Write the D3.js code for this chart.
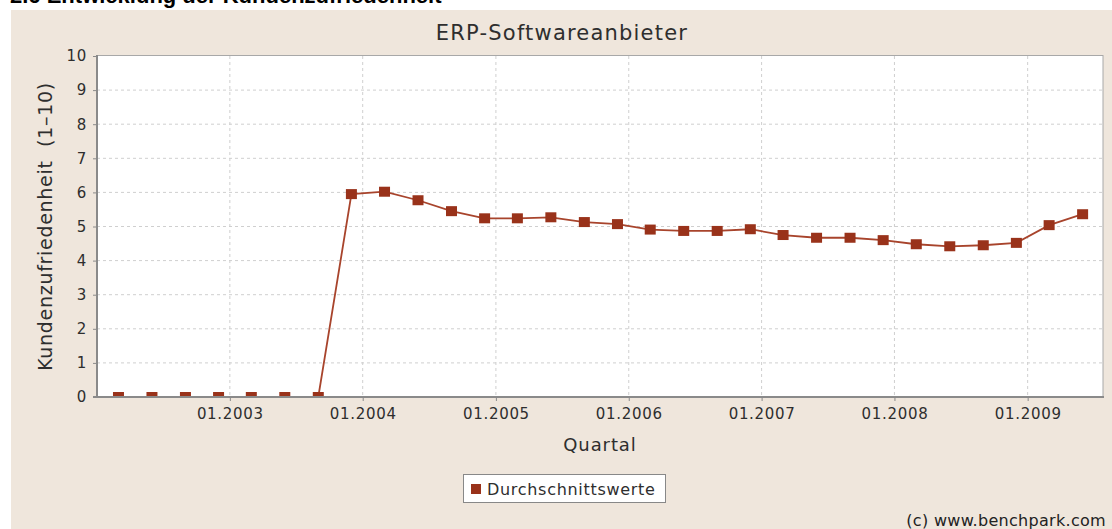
<!DOCTYPE html>
<html>
<head>
<meta charset="utf-8">
<script src="https://cdn.jsdelivr.net/npm/d3@7/dist/d3.min.js"></script>
<style>
  html, body { margin: 0; padding: 0; background: #fff; }
  svg { display: block; }
</style>
</head>
<body>
<div id="chart"></div>
<script>
// Quarterly dates and average satisfaction values
var quarters = ['2002-03-01', '2002-06-01', '2002-09-01', '2002-12-01',
  '2003-03-01', '2003-06-01', '2003-09-01', '2003-12-01',
  '2004-03-01', '2004-06-01', '2004-09-01', '2004-12-01',
  '2005-03-01', '2005-06-01', '2005-09-01', '2005-12-01',
  '2006-03-01', '2006-06-01', '2006-09-01', '2006-12-01',
  '2007-03-01', '2007-06-01', '2007-09-01', '2007-12-01',
  '2008-03-01', '2008-06-01', '2008-09-01', '2008-12-01',
  '2009-03-01', '2009-06-01'];
var values = [0, 0, 0, 0, 0, 0, 0,
  5.95, 6.02, 5.77, 5.45, 5.24, 5.24, 5.27, 5.13, 5.07,
  4.91, 4.87, 4.87, 4.92, 4.75, 4.67, 4.67, 4.60,
  4.48, 4.42, 4.45, 4.52, 5.04, 5.36];
var xDomain = ['2002-01-01', '2009-07-27'];
var xTicks = ['2003-01-01', '2004-01-01', '2005-01-01', '2006-01-01',
  '2007-01-01', '2008-01-01', '2009-01-01'];
var yTicks = [0, 1, 2, 3, 4, 5, 6, 7, 8, 9, 10];

var width = 1112;
var height = 529;
var plot = { left: 97, right: 1103, top: 56, bottom: 397 };
var parse = d3.timeParse('%Y-%m-%d');
var font = 'DejaVu Sans, Verdana, sans-serif';
var textColor = '#2e2e2e';

var data = quarters.map((q, i) => ({ date: parse(q), value: values[i] }));

var svg = d3.select('#chart').append('svg')
  .attr('width', width)
  .attr('height', height)

// heading of the page, cut off at the top edge as in the screenshot
svg.append('text')
  .attr('x', 10)
  .attr('y', 3)
  .attr('font-family', 'Liberation Sans, Arial, sans-serif')
  .attr('font-size', '22px')
  .attr('font-weight', 'bold')
  .attr('fill', '#000')
  .text('2.6 Entwicklung der Kundenzufriedenheit')

svg.append('rect')
  .attr('x', 11)
  .attr('y', 10)
  .attr('width', width - 11)
  .attr('height', height - 10)
  .attr('fill', '#efe6dc')

var x = d3.scaleTime()
  .domain(xDomain.map(parse))
  .range([plot.left, plot.right]);
var y = d3.scaleLinear()
  .domain([0, 10])
  .range([plot.bottom, plot.top]);

svg.append('rect')
  .attr('x', plot.left)
  .attr('y', plot.top)
  .attr('width', plot.right - plot.left)
  .attr('height', plot.bottom - plot.top)
  .attr('fill', '#fff')

// gridlines
svg.append('g')
  .selectAll('line')
  .data(yTicks.filter(d => d > 0 && d < 10))
  .enter()
  .append('line')
    .attr('x1', plot.left)
    .attr('x2', plot.right)
    .attr('y1', d => y(d))
    .attr('y2', d => y(d))
    .attr('stroke', '#cfcfcf')
    .attr('stroke-dasharray', '3,3')
svg.append('g')
  .selectAll('line')
  .data(xTicks.map(parse))
  .enter()
  .append('line')
    .attr('x1', d => x(d))
    .attr('x2', d => x(d))
    .attr('y1', plot.top)
    .attr('y2', plot.bottom)
    .attr('stroke', '#cfcfcf')
    .attr('stroke-dasharray', '3,3')

// plot outline
svg.append('rect')
  .attr('x', plot.left)
  .attr('y', plot.top - 0.5)
  .attr('width', plot.right - plot.left)
  .attr('height', plot.bottom - plot.top + 0.5)
  .attr('fill', 'none')
  .attr('stroke', '#a8a8a8')
  .attr('stroke-width', 1)

svg.append('clipPath')
  .attr('id', 'clip')
  .append('rect')
    .attr('x', plot.left)
    .attr('y', plot.top)
    .attr('width', plot.right - plot.left)
    .attr('height', plot.bottom - plot.top)

var series = svg.append('g')
  .attr('clip-path', 'url(#clip)')
series.append('path')
  .datum(data)
  .attr('d', d3.line().x(d => x(d.date)).y(d => y(d.value)))
  .attr('fill', 'none')
  .attr('stroke', '#a8442c')
  .attr('stroke-width', 1.8)
series.selectAll('rect')
  .data(data)
  .enter()
  .append('rect')
    .attr('x', d => x(d.date) - 5.5)
    .attr('y', d => y(d.value) - 5)
    .attr('width', 11)
    .attr('height', 10)
    .attr('fill', '#99321a')

// axes
var xAxis = d3.axisBottom(x)
  .tickValues(xTicks.map(parse))
  .tickFormat(d3.timeFormat('%m.%Y'))
  .tickSize(4)
  .tickPadding(7)
var yAxis = d3.axisLeft(y)
  .tickValues(yTicks)
  .tickFormat(d3.format('d'))
  .tickSize(4)
  .tickPadding(6)

var gx = svg.append('g')
  .attr('transform', `translate(0, ${plot.bottom})`)
  .call(xAxis)
var gy = svg.append('g')
  .attr('transform', `translate(${plot.left}, 0)`)
  .call(yAxis)
gx.select('.domain').attr('stroke', '#8a8a8a').attr('stroke-width', 2)
  .attr('d', `M${plot.left - 4},0H${plot.right + 1}`)
gy.select('.domain').attr('stroke', '#8a8a8a').attr('stroke-width', 2)
  .attr('d', `M0,${plot.top - 1}V${plot.bottom}`)
svg.selectAll('.tick line').attr('stroke', '#8a8a8a')
svg.selectAll('.tick text')
  .attr('font-family', font)
  .attr('font-size', '15px')
  .attr('letter-spacing', '0.7px')
  .attr('fill', textColor)

// titles
svg.append('text')
  .attr('x', 562)
  .attr('y', 40)
  .attr('text-anchor', 'middle')
  .attr('font-family', font)
  .attr('font-size', '21px')
  .attr('letter-spacing', '1.2px')
  .attr('fill', textColor)
  .text('ERP-Softwareanbieter')
svg.append('text')
  .attr('x', (plot.left + plot.right) / 2)
  .attr('y', 451)
  .attr('text-anchor', 'middle')
  .attr('font-family', font)
  .attr('font-size', '18px')
  .attr('letter-spacing', '0.9px')
  .attr('fill', textColor)
  .text('Quartal')
svg.append('text')
  .attr('transform', `translate(52, ${(plot.top + plot.bottom) / 2}) rotate(-90)`)
  .attr('text-anchor', 'middle')
  .attr('font-family', font)
  .attr('font-size', '19px')
  .attr('letter-spacing', '0.7px')
  .attr('fill', textColor)
  .style('white-space', 'pre')
  .text('Kundenzufriedenheit  (1\u201310)')

// legend
var legend = svg.append('g')
legend.append('rect')
  .attr('x', 463.5)
  .attr('y', 474.5)
  .attr('width', 202)
  .attr('height', 28)
  .attr('fill', '#fff')
  .attr('stroke', '#888')
legend.append('rect')
  .attr('x', 471)
  .attr('y', 484)
  .attr('width', 10)
  .attr('height', 10)
  .attr('fill', '#99321a')
legend.append('text')
  .attr('x', 487)
  .attr('y', 495)
  .attr('font-family', font)
  .attr('font-size', '16px')
  .attr('letter-spacing', '0.7px')
  .attr('fill', textColor)
  .text('Durchschnittswerte')

svg.append('text')
  .attr('x', 1106)
  .attr('y', 526)
  .attr('text-anchor', 'end')
  .attr('font-family', font)
  .attr('font-size', '16px')
  .attr('letter-spacing', '0.3px')
  .attr('fill', '#222')
  .text('(c) www.benchpark.com')
</script>
</body>
</html>
